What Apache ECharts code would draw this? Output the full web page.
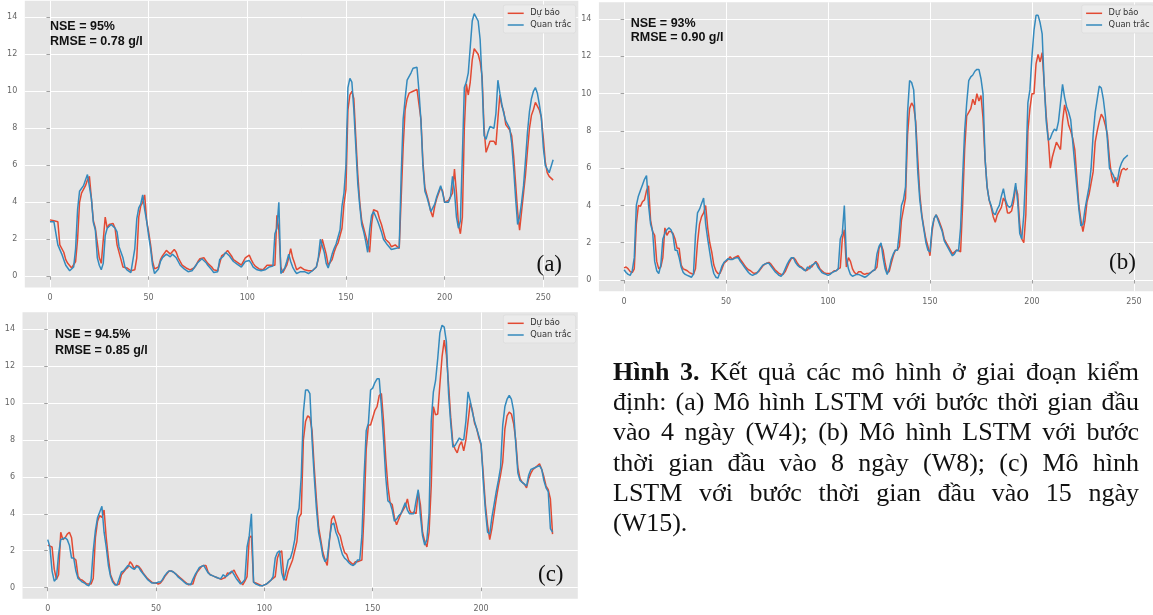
<!DOCTYPE html>
<html><head><meta charset="utf-8">
<script src="https://cdn.jsdelivr.net/npm/echarts@6/dist/echarts.min.js"></script>
<style>html,body{margin:0;padding:0;background:#fff}#c{width:1153px;height:615px}</style>
</head><body><div id="c"></div>
<script>
// ---------- DATA ----------
const seriesNames = ['Dự báo', 'Quan trắc'];
const xTicksAB = [0, 50, 100, 150, 200, 250];
const xTicksC = [0, 50, 100, 150, 200];
const yTicks = [0, 2, 4, 6, 8, 10, 12, 14];

const obsA = [
2.95,3.0,2.95,2.9,1.7,1.6,1.2,0.9,0.6,0.45,
0.3,0.25,0.5,1.5,3.6,4.6,4.6,4.9,5.2,5.5,
5.6,4.2,2.9,2.5,1.0,0.6,0.35,0.7,2.2,2.6,
2.7,2.8,2.75,2.6,2.4,1.6,1.6,1.0,0.5,0.35,
0.3,0.2,0.2,1.5,3.1,3.7,3.9,4.4,3.6,3.0,
2.2,1.5,0.6,0.15,0.1,0.4,0.8,1.0,1.1,1.2,
1.1,1.05,1.2,1.2,1.0,0.8,0.6,0.5,0.4,0.35,
0.25,0.25,0.3,0.4,0.6,0.75,0.85,0.95,0.9,0.75,
0.6,0.5,0.35,0.2,0.2,0.25,0.9,1.0,1.1,1.3,
1.25,1.1,0.95,0.8,0.75,0.65,0.55,0.5,0.5,0.8,
0.9,0.85,0.7,0.5,0.45,0.35,0.3,0.3,0.3,0.35,
0.4,0.5,0.6,0.55,2.3,2.6,4.0,0.15,0.2,0.45,
0.8,1.2,0.8,0.5,0.3,0.15,0.15,0.25,0.25,0.25,
0.2,0.15,0.15,0.3,0.4,0.5,1.0,2.0,2.0,1.3,
0.7,0.45,0.8,1.2,1.5,1.75,1.85,2.5,3.8,4.5,
6.0,10.2,10.7,10.5,9.0,7.0,5.0,3.8,2.8,2.4,
1.9,1.3,2.5,3.3,3.5,3.4,3.0,2.7,2.4,2.0,
1.9,1.7,1.6,1.45,1.35,1.5,1.6,1.55,5.5,8.5,
9.6,10.6,10.7,11.0,11.25,11.3,11.3,10.0,8.4,6.0,
4.6,4.3,3.9,3.5,3.6,3.9,4.3,4.6,4.9,4.5,
4.0,4.0,4.0,4.3,5.4,4.6,3.2,2.6,3.0,6.5,
10.2,10.5,11.0,12.4,13.8,14.2,14.1,13.8,12.8,10.5,
7.6,7.4,7.8,8.1,8.1,8.0,8.8,10.6,9.9,9.3,
8.8,8.4,8.4,8.0,7.2,5.8,4.2,2.8,3.2,4.0,
4.9,6.3,7.8,8.9,9.6,10.0,10.2,9.9,9.3,8.6,
7.0,6.0,5.8,5.6,5.5,6.3
];
const predA = [
3.05,3.0,3.0,2.95,2.95,1.7,1.7,1.3,0.9,0.7,
0.65,0.45,0.5,0.8,2.0,4.0,4.5,4.5,4.9,5.2,
5.4,5.45,3.0,2.6,2.5,1.0,0.7,0.6,3.2,2.6,
2.8,2.9,2.85,2.6,1.7,1.8,0.9,0.5,0.5,0.45,
0.35,0.3,0.3,0.35,1.0,3.2,3.8,4.0,4.4,3.0,
2.4,1.7,0.8,0.4,0.3,0.5,0.9,1.1,1.2,1.4,
1.3,1.2,1.3,1.45,1.3,1.0,0.8,0.6,0.5,0.45,
0.4,0.35,0.45,0.45,0.6,0.8,0.95,1.0,1.0,0.85,
0.7,0.6,0.5,0.35,0.3,0.3,0.4,1.1,1.1,1.25,
1.4,1.3,1.1,0.9,0.85,0.75,0.7,0.6,0.55,1.0,
0.9,1.15,0.9,0.7,0.55,0.45,0.4,0.4,0.35,0.4,
0.6,0.5,0.6,0.65,0.6,3.3,2.5,0.5,0.2,0.3,
0.6,1.0,1.5,1.0,0.7,0.35,0.3,0.5,0.45,0.35,
0.35,0.3,0.25,0.3,0.4,0.5,0.6,1.4,2.0,2.0,
1.2,0.6,0.5,0.9,1.3,1.6,1.8,1.9,2.6,3.9,
4.7,9.0,9.8,10.0,9.6,7.5,5.5,4.0,3.0,2.6,
2.2,1.8,1.3,2.8,3.6,3.7,3.5,3.1,2.8,2.4,
2.0,2.0,1.8,1.6,1.5,1.7,1.7,1.5,1.6,7.0,
9.0,9.6,9.9,9.8,10.0,10.1,10.1,10.0,8.5,6.2,
4.8,4.4,4.0,3.5,3.2,3.8,4.2,4.5,4.8,4.6,
4.0,4.0,4.1,4.2,4.5,5.8,4.5,2.8,2.3,3.2,
8.0,10.4,9.8,10.5,11.7,12.3,12.2,12.0,11.6,10.8,
8.0,6.7,6.7,7.3,7.4,7.3,7.1,8.5,9.8,9.2,
8.9,8.2,8.1,7.9,7.6,6.5,5.0,3.5,2.5,3.5,
4.5,5.5,6.8,8.0,8.7,9.0,9.4,9.3,9.0,8.6,
7.5,6.2,5.6,5.4,5.3,5.2
];

const obsB = [
0.55,0.4,0.3,0.25,0.5,1.2,4.0,4.5,4.8,5.1,
5.4,5.6,4.0,3.0,2.6,1.0,0.5,0.35,0.8,2.2,
2.5,2.7,2.8,2.7,2.4,1.6,1.6,1.2,0.7,0.4,
0.3,0.25,0.2,0.15,0.3,2.4,3.6,3.8,4.1,4.4,
3.0,2.2,1.5,0.8,0.35,0.15,0.1,0.4,0.75,0.95,
1.05,1.15,1.1,1.1,1.15,1.2,1.2,1.0,0.85,0.7,
0.55,0.4,0.3,0.25,0.3,0.35,0.5,0.65,0.8,0.85,
0.9,0.9,0.75,0.6,0.45,0.35,0.25,0.2,0.35,0.6,
0.85,1.05,1.2,1.2,0.95,0.8,0.7,0.65,0.55,0.5,
0.7,0.6,0.8,0.85,0.95,0.7,0.55,0.4,0.35,0.3,
0.25,0.3,0.4,0.45,0.5,0.6,2.2,2.5,4.0,1.2,
0.6,0.3,0.2,0.25,0.3,0.3,0.25,0.2,0.15,0.2,
0.3,0.4,0.5,0.55,1.4,1.8,2.0,1.2,0.6,0.3,
0.6,1.1,1.4,1.6,1.6,2.6,4.0,4.3,5.0,9.0,
10.7,10.6,10.2,8.2,5.8,4.3,3.4,2.7,2.0,1.6,
1.5,2.8,3.3,3.5,3.2,2.9,2.6,2.1,1.9,1.7,
1.5,1.3,1.4,1.6,1.55,2.8,5.5,8.0,9.5,10.7,
10.9,11.0,11.2,11.3,11.3,10.8,10.0,6.5,5.0,4.3,
4.0,3.6,3.5,3.8,4.0,4.5,4.9,4.3,4.0,3.9,
4.0,4.5,5.2,4.2,2.5,2.2,3.5,6.0,9.5,10.2,
12.0,13.4,14.2,14.2,13.8,13.2,10.5,8.5,7.5,7.6,
7.9,8.1,8.0,8.5,9.5,10.5,9.8,9.3,9.0,8.6,
7.4,6.2,5.0,3.8,2.9,3.0,3.8,4.4,5.0,6.0,
7.8,9.0,9.7,10.4,10.3,9.7,8.8,7.5,6.0,5.8,
5.6,5.3,5.4,6.0,6.3,6.5,6.6,6.7
];
const predB = [
0.65,0.7,0.6,0.45,0.4,0.6,3.0,4.0,3.95,4.2,
4.3,4.8,5.05,3.2,2.6,2.4,1.0,0.6,0.7,1.2,
2.8,2.4,2.6,2.6,2.5,2.2,1.7,1.7,0.8,0.6,
0.55,0.5,0.4,0.35,0.3,0.6,2.0,3.0,3.4,3.6,
4.0,2.8,2.0,1.5,0.8,0.5,0.35,0.35,0.6,0.9,
1.0,1.1,1.25,1.1,1.2,1.25,1.3,1.1,0.95,0.8,
0.65,0.55,0.5,0.4,0.35,0.4,0.45,0.6,0.75,0.85,
0.9,0.95,0.85,0.7,0.55,0.45,0.35,0.3,0.3,0.45,
0.7,0.95,1.15,1.2,1.1,0.9,0.75,0.7,0.6,0.5,
0.55,0.75,0.7,0.85,1.0,0.85,0.6,0.5,0.4,0.35,
0.35,0.35,0.4,0.5,0.5,0.6,0.65,2.2,2.7,0.7,
1.2,1.0,0.6,0.4,0.3,0.45,0.45,0.35,0.3,0.35,
0.35,0.4,0.5,0.55,0.7,1.7,1.9,1.6,0.9,0.4,
0.45,0.9,1.3,1.6,1.6,1.8,3.2,3.8,4.4,7.8,
9.2,9.5,9.3,8.5,6.5,4.6,3.5,2.8,2.2,1.8,
1.3,2.6,3.3,3.5,3.3,3.0,2.7,2.2,2.0,1.8,
1.6,1.4,1.5,1.6,1.6,1.5,4.0,7.0,8.8,9.0,
9.2,9.7,9.4,10.0,9.6,9.9,8.7,6.5,5.0,4.3,
3.9,3.4,3.1,3.5,3.7,3.9,4.4,4.2,3.6,3.6,
3.7,4.2,5.0,4.6,3.0,2.2,2.0,3.5,8.0,9.2,
10.0,10.0,11.6,12.1,11.7,12.2,10.5,8.8,7.6,6.0,
6.6,7.0,7.4,7.2,7.0,8.5,9.4,8.9,8.3,8.0,
7.6,7.0,5.5,4.0,3.2,2.6,3.2,4.2,4.6,5.2,
5.8,7.4,8.0,8.5,8.9,8.7,8.3,7.8,6.5,5.6,
5.2,5.5,5.0,5.5,5.9,6.0,5.9,6.0
];

const obsC = [
2.6,2.2,0.9,0.35,0.5,1.8,2.6,2.65,2.7,2.6,
2.3,1.6,1.6,0.9,0.5,0.4,0.3,0.25,0.15,0.1,
0.4,2.0,3.1,3.8,4.1,4.4,3.0,2.2,1.2,0.6,
0.3,0.15,0.15,0.5,0.85,0.9,1.05,1.2,1.15,1.05,
1.0,1.15,1.1,0.9,0.75,0.6,0.45,0.35,0.25,0.25,
0.25,0.3,0.3,0.45,0.65,0.8,0.9,0.9,0.85,0.75,
0.6,0.5,0.4,0.3,0.2,0.2,0.15,0.45,0.7,0.9,
1.1,1.15,1.2,1.0,0.8,0.7,0.65,0.6,0.55,0.5,
0.5,0.7,0.6,0.65,0.8,0.9,0.7,0.5,0.35,0.2,
0.3,0.45,2.2,2.8,4.0,0.3,0.2,0.15,0.1,0.1,
0.15,0.2,0.3,0.4,0.6,1.6,1.9,2.0,0.8,0.4,
0.9,1.5,1.6,2.0,2.6,3.8,4.3,6.0,9.5,10.7,
10.7,10.5,8.0,6.0,4.3,3.0,2.4,1.7,1.4,1.6,
2.6,3.4,3.5,3.0,2.7,2.2,1.8,1.6,1.5,1.35,
1.25,1.2,1.3,1.5,1.5,2.8,6.0,8.5,8.9,10.7,
10.8,11.1,11.3,11.3,9.8,8.0,6.0,4.7,4.6,4.2,
3.6,3.7,3.9,4.0,4.3,4.6,4.2,4.0,4.0,4.0,
4.7,5.3,3.9,2.8,2.3,2.6,4.0,9.0,10.6,11.2,
12.4,13.8,14.2,14.1,13.3,10.5,8.9,7.6,7.7,7.9,
8.1,8.0,8.0,9.0,10.6,10.1,9.5,9.0,8.6,8.2,
7.8,5.8,4.2,3.0,2.9,3.8,4.5,5.2,5.8,6.5,
8.8,9.8,10.2,10.4,10.2,9.6,7.8,6.2,5.8,5.7,
5.6,5.5,6.1,6.4,6.45,6.5,6.55,6.6,6.4,5.8,
5.4,5.2,3.2,3.0
];
const predC = [
2.3,2.25,2.2,1.0,0.45,0.7,3.0,2.6,2.7,2.9,
3.0,2.7,1.6,1.5,0.6,0.45,0.4,0.3,0.2,0.2,
0.2,0.5,2.7,3.6,3.9,3.8,4.2,2.7,1.6,0.7,
0.4,0.2,0.15,0.2,0.7,0.85,1.0,1.1,1.4,1.25,
1.0,1.2,1.15,1.0,0.8,0.65,0.5,0.4,0.3,0.25,
0.25,0.2,0.25,0.4,0.6,0.75,0.9,0.9,0.85,0.75,
0.65,0.55,0.45,0.35,0.25,0.15,0.2,0.2,0.6,0.85,
1.0,1.15,1.2,1.2,0.85,0.7,0.65,0.6,0.55,0.5,
0.45,0.5,0.55,0.8,0.75,0.85,0.95,0.7,0.5,0.3,
0.15,0.35,0.6,2.7,2.8,0.3,0.25,0.2,0.15,0.1,
0.15,0.2,0.3,0.4,0.5,0.6,1.6,1.9,2.0,0.5,
0.4,0.9,1.2,1.5,2.0,2.5,3.8,4.0,8.0,9.0,
9.3,9.2,8.5,6.5,4.8,3.3,2.6,1.9,1.5,1.2,
2.5,3.7,3.9,3.5,3.0,2.8,2.3,1.9,1.8,1.45,
1.35,1.25,1.4,1.4,1.45,1.5,4.0,7.5,8.8,8.8,
9.2,9.6,9.8,10.4,10.5,9.0,7.0,5.5,4.6,4.5,
3.8,3.4,3.7,4.0,4.2,4.4,4.8,4.2,4.0,4.1,
4.0,5.2,4.5,3.0,2.5,2.2,3.0,5.5,9.8,9.35,
9.4,11.0,12.5,13.4,12.6,11.0,9.2,7.8,7.5,7.3,
7.7,7.9,7.4,8.0,9.0,10.0,9.6,8.9,8.6,8.1,
7.7,6.2,4.5,3.4,2.6,3.2,4.0,4.8,5.5,6.1,
6.8,8.6,9.3,9.5,9.4,8.9,8.0,6.5,5.9,5.7,
5.6,5.4,5.9,6.2,6.4,6.5,6.6,6.7,6.4,6.0,
5.5,5.3,4.8,2.9
];

const statsA = ['NSE = 95%', 'RMSE = 0.78 g/l'];
const statsB = ['NSE = 93%', 'RMSE = 0.90 g/l'];
const statsC = ['NSE = 94.5%', 'RMSE = 0.85 g/l'];
const panelLabels = ['(a)', '(b)', '(c)'];
const captionBoldWords = 2;
const captionLines = [
  'Hình 3. Kết quả các mô hình ở giai đoạn kiểm',
  'định: (a) Mô hình LSTM với bước thời gian đầu',
  'vào 4 ngày (W4); (b) Mô hình LSTM với bước',
  'thời gian đầu vào 8 ngày (W8); (c) Mô hình',
  'LSTM với bước thời gian đầu vào 15 ngày',
  '(W15).'
];

// ---------- LAYOUT ----------
const RED = '#E24A33', BLUE = '#348ABD';
const panels = [
  {obs: obsA, pred: predA, ticks: xTicksAB, stats: statsA, label: panelLabels[0],
   grid: {left: 24.8, top: 0.65, width: 553.5, height: 286.75}, xmin: -12.75, xmax: 267.75,
   statX: 50, statY: [26.5, 41.8], labX: 536.5, labY: 265,
   legend: {left: 503.3, top: 5}},
  {obs: obsB, pred: predB, ticks: xTicksAB, stats: statsB, label: panelLabels[1],
   grid: {left: 598.9, top: 2.3, width: 558.1, height: 288.9}, xmin: -12.35, xmax: 259.35,
   statX: 630.7, statY: [23.3, 37.3], labX: 1109, labY: 263,
   legend: {left: 1081.7, top: 5}},
  {obs: obsC, pred: predC, ticks: xTicksC, stats: statsC, label: panelLabels[2],
   grid: {left: 22.5, top: 312.35, width: 555.3, height: 286.4}, xmin: -11.65, xmax: 244.65,
   statX: 55, statY: [335, 350.7], labX: 538, labY: 575,
   legend: {left: 503.3, top: 315}}
];

const grids = [], xAxes = [], yAxes = [], series = [], legends = [], graphics = [];
panels.forEach((p, i) => {
  grids.push(Object.assign({show: true, backgroundColor: '#E5E5E5', borderWidth: 0, containLabel: false}, p.grid));
  xAxes.push({
    gridIndex: i, type: 'value', min: p.xmin, max: p.xmax,
    axisLine: {show: false},
    axisTick: {show: true, length: 3.5, customValues: p.ticks, lineStyle: {color: '#888', width: 0.8}},
    axisLabel: {customValues: p.ticks, fontSize: 8, color: '#666', margin: 6.5, fontFamily: 'DejaVu Sans'},
    splitLine: {show: true, lineStyle: {color: '#ffffff', width: 1}}
  });
  yAxes.push({
    gridIndex: i, type: 'value', min: -0.6, max: 14.9,
    axisLine: {show: false},
    axisTick: {show: true, length: 3.5, customValues: yTicks, lineStyle: {color: '#888', width: 0.8}},
    axisLabel: {customValues: yTicks, fontSize: 8, color: '#666', margin: 7.5, fontFamily: 'DejaVu Sans'},
    splitLine: {show: true, lineStyle: {color: '#ffffff', width: 1}}
  });
  series.push({
    name: seriesNames[0], type: 'line', xAxisIndex: i, yAxisIndex: i,
    data: p.pred.map((v, k) => [k, v]), showSymbol: false, symbol: 'none',
    lineStyle: {color: RED, width: 1.5}, itemStyle: {color: RED}, silent: true
  });
  series.push({
    name: seriesNames[1], type: 'line', xAxisIndex: i, yAxisIndex: i,
    data: p.obs.map((v, k) => [k, v]), showSymbol: false, symbol: 'none',
    lineStyle: {color: BLUE, width: 1.5}, itemStyle: {color: BLUE}, silent: true
  });
  legends.push({
    data: seriesNames, orient: 'vertical', left: p.legend.left, top: p.legend.top,
    icon: 'rect', itemWidth: 16, itemHeight: 1.5, itemGap: 1.7,
    padding: [3.3, 4.4, 3, 4.4], backgroundColor: '#EBEBEB', borderColor: '#D9D9D9',
    borderWidth: 0.6, borderRadius: 2, selectedMode: false,
    textStyle: {fontSize: 8.3, color: '#333', fontFamily: 'DejaVu Sans', lineHeight: 10, padding: [0, 0, 0, 1.5]}
  });
  p.stats.forEach((t, k) => graphics.push({
    type: 'text', x: p.statX, y: p.statY[k], silent: true, z: 100, zlevel: 0,
    style: {text: t, font: 'bold 12.5px "Liberation Sans", Arial, sans-serif', fill: '#111', verticalAlign: 'middle', align: 'left'}
  }));
  graphics.push({
    type: 'text', x: p.labX, y: p.labY, silent: true, z: 100,
    style: {text: p.label, font: '23px "Liberation Serif", "Times New Roman", serif', fill: '#111', verticalAlign: 'middle', align: 'left'}
  });
});

// caption, justified
const CAP_SIZE = 26, CAP_LEFT = 613, CAP_RIGHT = 1139, CAP_BASE = 381.7, CAP_STEP = 30.3;
const ctx = document.createElement('canvas').getContext('2d');
function capFont(bold) { return (bold ? 'bold ' : '') + CAP_SIZE + 'px "Liberation Serif", "Times New Roman", serif'; }
function measure(t, bold) { ctx.font = capFont(bold); return ctx.measureText(t).width; }
captionLines.forEach((line, li) => {
  const words = line.split(' ');
  const bolds = words.map((w, wi) => li === 0 && wi < captionBoldWords);
  const widths = words.map((w, wi) => measure(w, bolds[wi]));
  const total = widths.reduce((a, b) => a + b, 0);
  const last = li === captionLines.length - 1;
  const gap = (last || words.length < 2) ? measure(' ', false) : (CAP_RIGHT - CAP_LEFT - total) / (words.length - 1);
  let x = CAP_LEFT;
  const yMid = CAP_BASE + li * CAP_STEP - 0.34 * CAP_SIZE;
  words.forEach((w, wi) => {
    graphics.push({type: 'text', x: x, y: yMid, silent: true, z: 100,
      style: {text: w, font: capFont(bolds[wi]), fill: '#111', verticalAlign: 'middle', align: 'left'}});
    x += widths[wi] + gap;
  });
});

const chart = echarts.init(document.getElementById('c'), null, {renderer: 'canvas'});
chart.setOption({
  animation: false,
  backgroundColor: '#ffffff',
  grid: grids, xAxis: xAxes, yAxis: yAxes, series: series, legend: legends,
  graphic: {elements: graphics}, tooltip: {show: false}
});
</script></body></html>
